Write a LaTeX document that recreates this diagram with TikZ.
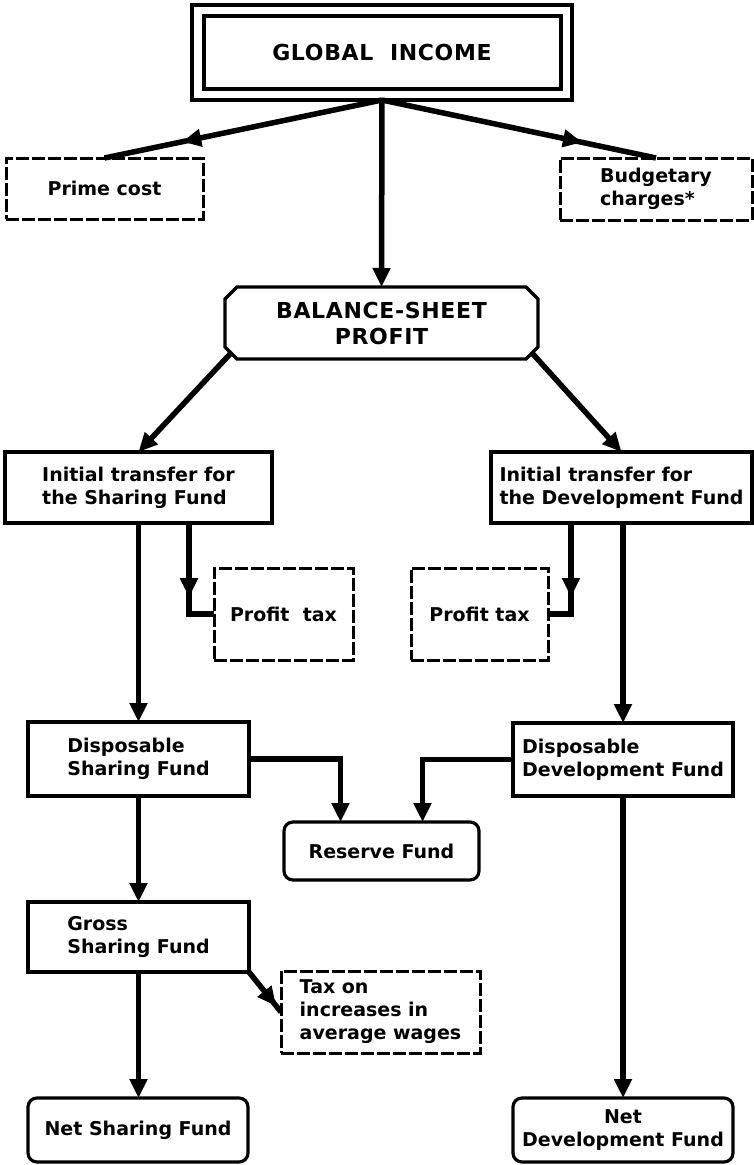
\documentclass[tikz,border=0pt]{standalone}
\usepackage{fontspec}
\setmainfont{DejaVu Sans}
\newfontfamily\capsfont{DejaVu Sans}[LetterSpace=3]
\usetikzlibrary{arrows.meta,decorations.markings}
\tikzset{
 txt/.style={font=\bfseries\fontsize{19}{23}\selectfont},
 box/.style={draw, line width=3.2pt, inner sep=0pt, outer sep=0pt, align=left, txt},
 dashbox/.style={box, line width=3pt, dash pattern=on 13pt off 3pt},
 roundbox/.style={box, rounded corners=9pt},
 capstxt/.style={font={\capsfont\bfseries\fontsize{22}{26}\selectfont}, align=center},
 plain/.style={line width=5.5pt},
 conn/.style={plain, -{Triangle[length=19pt,width=17pt]}},
 midarrow/.style={plain, postaction={decorate}, decoration={markings, mark=at position #1 with {\arrow{Triangle[length=19pt,width=17pt]}}}},
}
\begin{document}
\begin{tikzpicture}[x=1pt,y=-1pt]
\useasboundingbox (0,0) rectangle (754,1165);
% Global income
\node[box, capstxt, minimum width=380pt, minimum height=95pt] (gi) at (382,52.5) {GLOBAL\ \ INCOME};
\draw[line width=3.2pt] ([shift={(12pt,-11pt)}]gi.north west) rectangle ([shift={(-11pt,11pt)}]gi.south east);
% first row
\node[dashbox, minimum width=197pt, minimum height=61pt] (pc) at (104.5,188.5) {Prime cost};
\node[dashbox, minimum width=192pt, minimum height=62pt] (bc) at (656,189) {Budgetary\\charges*};
% balance-sheet profit
\node[capstxt, inner sep=0pt, outer sep=0pt, minimum width=313pt, minimum height=72pt] (bsp) at (381.5,323) {BALANCE-SHEET\\PROFIT};
\draw[line width=3.2pt] ([xshift=12pt]bsp.north west) -- ([xshift=-12pt]bsp.north east) -- ([yshift=-12pt]bsp.north east) -- ([yshift=12pt]bsp.south east) -- ([xshift=-12pt]bsp.south east) -- ([xshift=12pt]bsp.south west) -- ([yshift=12pt]bsp.south west) -- ([yshift=-12pt]bsp.north west) -- cycle;
% initial transfers
\node[box, minimum width=267pt, minimum height=71pt] (its) at (138.5,487.5) {Initial transfer for\\the Sharing Fund};
\node[box, minimum width=261pt, minimum height=71pt] (itd) at (621.5,487.5) {Initial transfer for\\the Development Fund};
% profit taxes
\node[dashbox, minimum width=139pt, minimum height=92pt] (pt1) at (283.5,614) {Profit\ \ tax};
\node[dashbox, minimum width=137pt, minimum height=92pt] (pt2) at (479.5,614) {Profit tax};
\coordinate (pl) at (189,614);
\coordinate (pr) at (571,614);
% disposable
\node[box, minimum width=221pt, minimum height=74pt] (dsf) at (138.5,759) {Disposable\\Sharing Fund};
\node[box, minimum width=220pt, minimum height=73pt] (ddf) at (623,759.5) {Disposable\\Development Fund};
% reserve
\node[roundbox, minimum width=195pt, minimum height=58pt] (rf) at (381.5,851) {Reserve Fund};
% gross
\node[box, minimum width=221pt, minimum height=70pt] (gsf) at (138.5,937) {Gross\\Sharing Fund};
\node[dashbox, minimum width=199pt, minimum height=82pt] (tax) at (380.5,1012) {Tax on\\increases in\\average wages};
% net
\node[roundbox, minimum width=220pt, minimum height=64pt] (nsf) at (138,1130) {Net Sharing Fund};
\node[roundbox, align=center, minimum width=220pt, minimum height=64pt] (ndf) at (623,1130) {Net\\Development Fund};
% connectors
\draw[midarrow=0.72] (gi.south) -- (pc.north);
\draw[midarrow=0.73] (gi.south) -- (bc.north);
\draw[conn] (gi.south) -- (bsp.north);
\draw[conn] ([shift={(6pt,6pt)}]bsp.south west) -- (its.north);
\draw[conn] ([shift={(-6pt,6pt)}]bsp.south east) -- (itd.north);
\draw[midarrow=0.64] (its.south -| pl) -- (pl) -- (pt1.west);
\draw[midarrow=0.65] (itd.south -| pr) -- (pr) -- (pt2.east);
\draw[conn] (its.south) -- (dsf.north);
\draw[conn] (ddf.north |- itd.south) -- (ddf.north);
\draw[conn] (dsf.east) -| ([xshift=-41pt]rf.north);
\draw[conn] (ddf.west) -| ([xshift=41pt]rf.north);
\draw[conn] (dsf.south) -- (gsf.north);
\draw[midarrow=0.85] (gsf.south east) -- (tax.west);
\draw[conn] (gsf.south) -- (gsf.south |- nsf.north);
\draw[conn] (ddf.south) -- (ndf.north);
\end{tikzpicture}
\end{document}
